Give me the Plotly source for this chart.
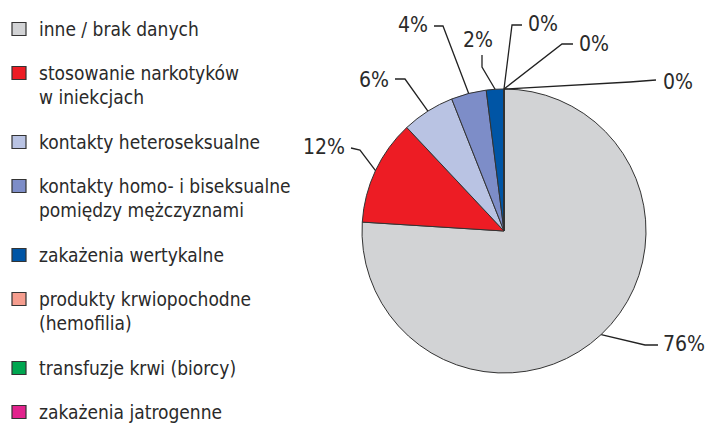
import math
import plotly.graph_objects as go

# ---- data ----
categories = [
    "inne / brak danych",
    "stosowanie narkotyków<br>w iniekcjach",
    "kontakty heteroseksualne",
    "kontakty homo- i biseksualne<br>pomiędzy mężczyznami",
    "zakażenia wertykalne",
    "produkty krwiopochodne<br>(hemofilia)",
    "transfuzje krwi (biorcy)",
    "zakażenia jatrogenne",
]
values = [76, 12, 6, 4, 2, 0, 0, 0]
colors = ["#d2d3d5", "#ed1c24", "#b9c3e3", "#7d8dc8", "#0055a5",
          "#f59d8e", "#00a650", "#e2238d"]

# ---- geometry / style ----
W, H = 710, 424
CX, CY, R = 504, 231, 142
FONT = "DejaVu Sans Condensed, Liberation Sans Narrow, sans-serif"
TXT = "#2a2a2a"

def px(x):
    return x / W

def py(y):
    return 1 - y / H

# label text placement (pixel) and leader-line elbow points, per slice
label_pos = [(661, 344, "left"), (347, 147, "right"), (391, 80, "right"),
             (430, 25, "right"), (478, 40, "center"), (526, 24, "left"),
             (577, 44, "left"), (661, 82, "left")]
leader_pts = [
    [(658, 345), (645, 345)],
    [(351, 148), (360, 150)],
    [(395, 79), (405, 79)],
    [(434, 26), (443, 26)],
    [(482, 55), (482, 67)],
    [(522, 25), (512, 25)],
    [(573, 44), (562, 44)],
    [(656, 80), (630, 82)],
]

fig = go.Figure(go.Pie(
    labels=[c.replace("<br>", " ") for c in categories],
    values=values,
    sort=False,
    direction="clockwise",
    rotation=0,
    marker=dict(colors=colors, line=dict(color="#333333", width=1)),
    textinfo="none",
    hoverinfo="label+percent",
    showlegend=False,
    domain=dict(x=[px(CX - R), px(CX + R)], y=[py(CY + R), py(CY - R)]),
))

annotations = []
shapes = []
total = sum(values)
cum = 0
for i, v in enumerate(values):
    mid = (cum + v / 2) / total * 2 * math.pi
    cum += v
    ax = CX + R * math.sin(mid)
    ay = CY - R * math.cos(mid)
    pts = leader_pts[i] + [(ax, ay)]
    path = "M " + " L ".join(f"{px(x):.5f},{py(y):.5f}" for x, y in pts)
    shapes.append(dict(type="path", xref="paper", yref="paper", path=path,
                       line=dict(color="#222222", width=1.3)))
    lx, ly, anc = label_pos[i]
    annotations.append(dict(text=f"{v}%", x=px(lx), y=py(ly), xref="paper",
                            yref="paper", xanchor=anc, yanchor="middle",
                            showarrow=False,
                            font=dict(family=FONT, size=21, color=TXT)))

# manual legend
y = 29
for cat, col in zip(categories, colors):
    lines = cat.split("<br>")
    shapes.append(dict(type="rect", xref="paper", yref="paper",
                       x0=px(12), x1=px(26), y0=py(y + 6.5), y1=py(y - 6.5),
                       fillcolor=col, line=dict(color="#333333", width=1.2)))
    for k, t in enumerate(lines):
        annotations.append(dict(text=t, x=px(37), y=py(y + 24 * k), xref="paper",
                                yref="paper", xanchor="left", yanchor="middle",
                                showarrow=False,
                                font=dict(family=FONT, size=19, color=TXT)))
    y += 44 + 25 * (len(lines) - 1)

fig.update_layout(
    width=W, height=H,
    margin=dict(l=0, r=0, t=0, b=0),
    paper_bgcolor="white", plot_bgcolor="white",
    annotations=annotations, shapes=shapes,
)

fig.write_html("out.html",
               config={"displayModeBar": False},
               post_script="document.body.style.margin='0';"
                           "document.body.style.overflow='hidden';")
